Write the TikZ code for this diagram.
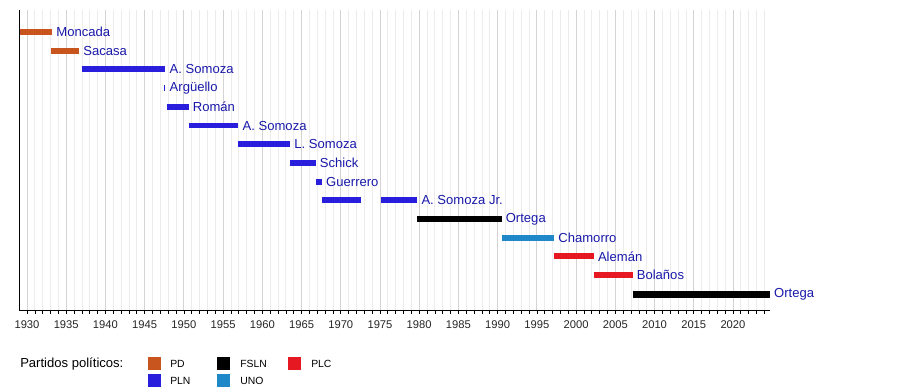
\documentclass[tikz,border=0pt]{standalone}
\usepackage{fontspec}
\setmainfont{Liberation Sans}
\definecolor{cPD}{RGB}{200,84,30}
\definecolor{cPLN}{RGB}{40,30,220}
\definecolor{cFSLN}{RGB}{0,0,0}
\definecolor{cUNO}{RGB}{30,136,200}
\definecolor{cPLC}{RGB}{230,25,35}
\definecolor{lblblue}{RGB}{25,25,170}
\definecolor{gridminor}{RGB}{236,236,236}
\definecolor{gridmajor}{RGB}{212,212,212}
\tikzset{
  bar/.style={line width=4.4pt, line cap=butt},
  lbl/.style={anchor=west, inner sep=0pt, text=lblblue, font=\fontsize{9.8pt}{11pt}\selectfont, xshift=3pt},
  yearlbl/.style={anchor=center, inner sep=0pt, font=\fontsize{8.4pt}{10pt}\selectfont, text=black!85},
  legtxt/.style={anchor=west, inner sep=0pt, font=\fontsize{7.8pt}{9pt}\selectfont, text=black},
  legbox/.style={minimum width=9.75pt, minimum height=9.75pt, inner sep=0pt, anchor=north west}
}
\begin{document}
\begin{tikzpicture}[x=0.75pt, y=-0.75pt]
\useasboundingbox (0,0) rectangle (900,390);
\fill[white] (0,0) rectangle (900,390);
\begin{scope}[x=5.883pt, xshift=20.25pt]
  % grid
  \foreach \t in {0,...,94} {
    \pgfmathtruncatemacro{\m}{mod(\t,5)}
    \ifnum\m=0
      \draw[gridmajor, line width=0.6pt] (\t,10) -- (\t,310);
    \else
      \draw[gridminor, line width=0.6pt] (\t,10) -- (\t,310);
    \fi
  }
  % axes
  \coordinate (axO) at (-0.9,310);
  \coordinate (axT) at (-0.9,10);
  \coordinate (axR) at (94.7,310);
  \draw[black, line width=0.7pt] (axT) -- (axO) -- (axR);
  \foreach \t in {0,...,94} {
    \draw[black, line width=0.5pt] (\t,310) -- (\t,313.5);
  }
  \foreach \y in {1930,1935,...,2020} {
    \node[yearlbl] (yr\y) at ({\y-1930},325) {\y};
  }
  % bars
  \draw[bar, cPD] (-0.9,32) -- (3.2,32) coordinate (e1);
  \node[lbl] (moncada) at (e1) {Moncada};
  \draw[bar, cPD] (3.1,50.7) -- (6.65,50.7) coordinate (e2);
  \node[lbl] (sacasa) at (e2) {Sacasa};
  \draw[bar, cPLN] (7.0,69.4) -- (17.65,69.4) coordinate (e3);
  \node[lbl] (somozaA) at (e3) {A. Somoza};
  \draw[bar, cPLN] (17.5,88.1) -- (17.65,88.1) coordinate (e4);
  \node[lbl] (arguello) at (e4) {Argüello};
  \draw[bar, cPLN] (17.8,106.8) -- (20.6,106.8) coordinate (e5);
  \node[lbl] (roman) at (e5) {Román};
  \draw[bar, cPLN] (20.6,125.5) -- (26.95,125.5) coordinate (e6);
  \node[lbl] (somozaB) at (e6) {A. Somoza};
  \draw[bar, cPLN] (26.95,144.2) -- (33.55,144.2) coordinate (e7);
  \node[lbl] (lsomoza) at (e7) {L. Somoza};
  \draw[bar, cPLN] (33.55,162.9) -- (36.8,162.9) coordinate (e8);
  \node[lbl] (schick) at (e8) {Schick};
  \draw[bar, cPLN] (36.8,181.6) -- (37.6,181.6) coordinate (e9);
  \node[lbl] (guerrero) at (e9) {Guerrero};
  \draw[bar, cPLN] (37.6,200.3) -- (42.6,200.3);
  \draw[bar, cPLN] (45.1,200.3) -- (49.75,200.3) coordinate (e10);
  \node[lbl] (somozaJr) at (e10) {A. Somoza Jr.};
  \draw[bar, cFSLN] (49.75,219) -- (60.5,219) coordinate (e11);
  \node[lbl] (ortegaA) at (e11) {Ortega};
  \draw[bar, cUNO] (60.5,237.7) -- (67.2,237.7) coordinate (e12);
  \node[lbl] (chamorro) at (e12) {Chamorro};
  \draw[bar, cPLC] (67.2,256.4) -- (72.25,256.4) coordinate (e13);
  \node[lbl] (aleman) at (e13) {Alemán};
  \draw[bar, cPLC] (72.25,275.1) -- (77.2,275.1) coordinate (e14);
  \node[lbl] (bolanos) at (e14) {Bolaños};
  \draw[bar, cFSLN, line width=5.2pt] (77.2,294.5) -- (94.7,294.5) coordinate (e15);
  \node[lbl] (ortegaB) at (e15) {Ortega};
\end{scope}
% legend
\node[anchor=west, inner sep=0pt, font=\fontsize{9.8pt}{11pt}\selectfont] (legtitle) at (20,364) {Partidos políticos:};
\node[legbox, fill=cPD] (bPD) at (148,357) {};
\node[legtxt] (tPD) at (170,364) {PD};
\node[legbox, fill=cPLN] (bPLN) at (148,374) {};
\node[legtxt] (tPLN) at (170,381) {PLN};
\node[legbox, fill=cFSLN] (bFSLN) at (217,357) {};
\node[legtxt] (tFSLN) at (240,364) {FSLN};
\node[legbox, fill=cUNO] (bUNO) at (217,374) {};
\node[legtxt] (tUNO) at (240,381) {UNO};
\node[legbox, fill=cPLC] (bPLC) at (288,357) {};
\node[legtxt] (tPLC) at (311,364) {PLC};
\end{tikzpicture}
\end{document}
